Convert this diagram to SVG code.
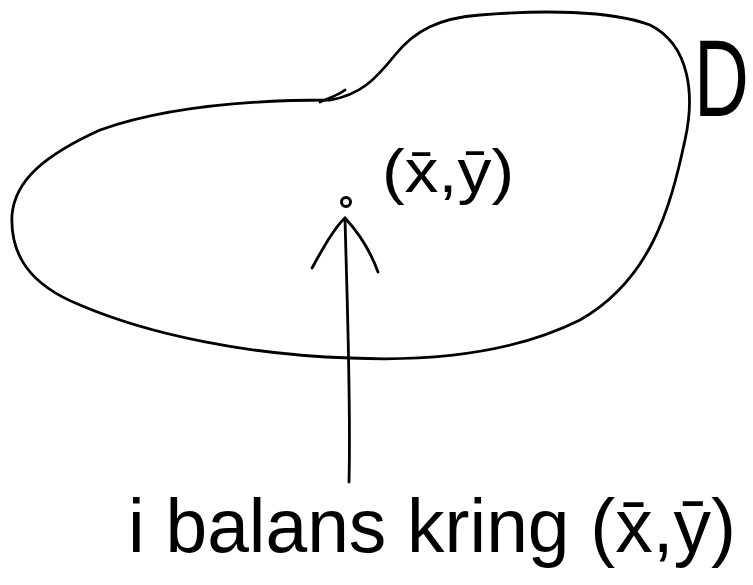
<svg xmlns="http://www.w3.org/2000/svg" width="753" height="585" viewBox="0 0 753 585">
<style>
.ink{fill:none;stroke:#000;stroke-width:2.8;stroke-linecap:round;stroke-linejoin:round}
.t{font-family:"Liberation Sans","DejaVu Sans",sans-serif;fill:#000}
</style>
<rect width="753" height="585" fill="#fff"/>
<g id="region-D">
<path class="ink" d="M330,100 C360,95 375,80 395,55 C415,30 440,18 480,15 C540,10 610,10 650,25 C690,45 695,95 685,140 C670,210 650,280 580,320 C520,350 440,362 350,358 C250,355 150,335 80,305 C30,285 10,255 12,215 C15,180 45,155 100,130 C170,105 260,100 330,100 Z"/>
<path class="ink" d="M320,102 C330,98 340,94 345,90"/>
</g>
<g id="label-D">
<text class="t" x="0" y="0" font-size="76" transform="translate(694,116) scale(1,1.45)">D</text>
</g>
<g id="centroid">
<circle cx="346" cy="202" r="4.5" fill="#fff" stroke="#000" stroke-width="3"/>
<text class="t" x="382" y="192" font-size="62" textLength="132" lengthAdjust="spacingAndGlyphs">(x̄,ȳ)</text>
</g>
<g id="caption">
<text class="t" x="128" y="552" font-size="76" textLength="608" lengthAdjust="spacingAndGlyphs">i balans kring (x̄,ȳ)</text>
</g>
<g id="connectors">
<path class="ink" d="M349,482 C351,400 347,300 345,218"/>
<path class="ink" d="M312,268 C322,250 334,228 345,218 C358,232 370,250 378,272 M378,272 L374,262"/>
</g>
</svg>
